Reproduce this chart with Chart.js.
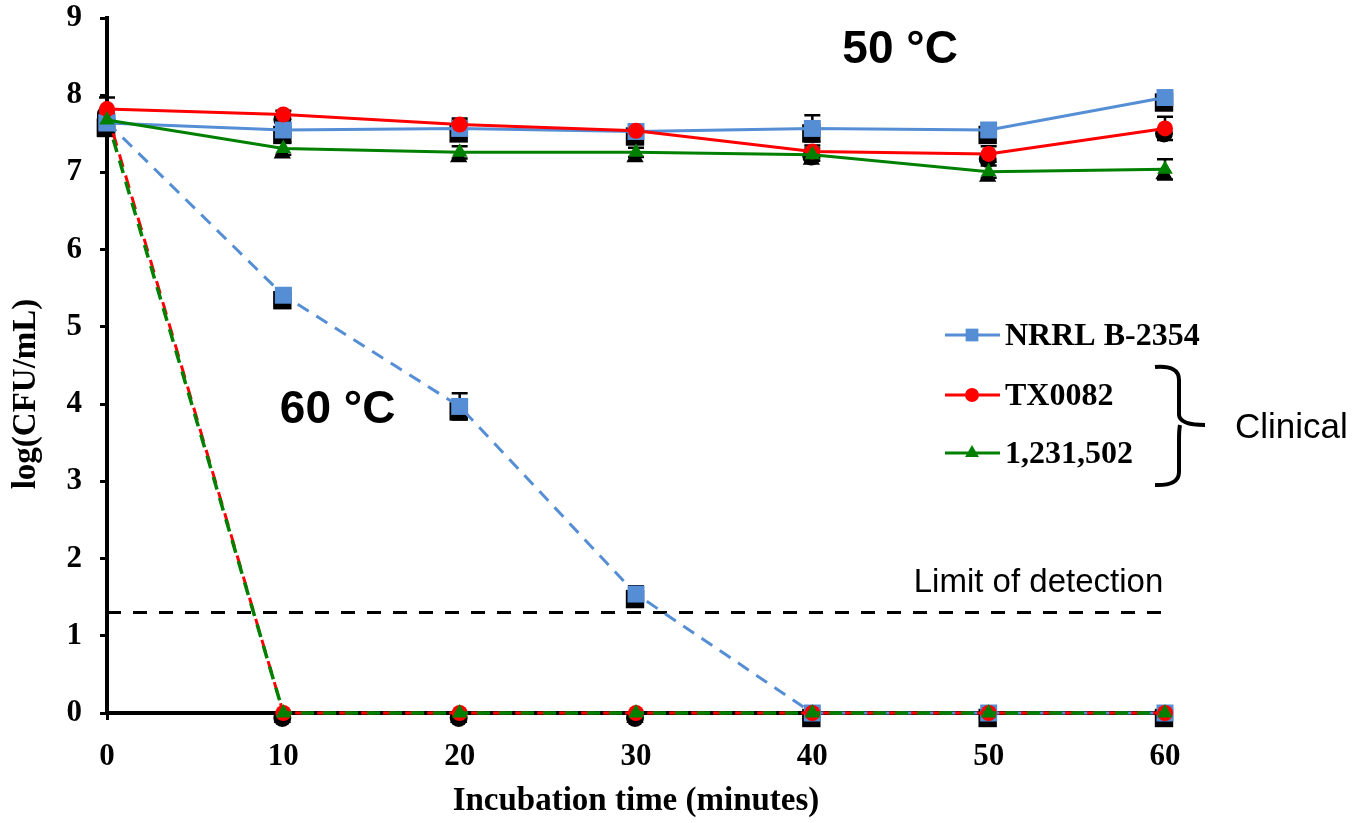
<!DOCTYPE html>
<html>
<head>
<meta charset="utf-8">
<script src="https://cdn.jsdelivr.net/npm/chart.js@4/dist/chart.umd.min.js"></script>
<style>
  html, body { margin: 0; padding: 0; background: #fff; }
  #wrap { width: 1356px; height: 823px; }
</style>
</head>
<body>
<div id="wrap"><canvas id="chart" width="1356" height="823"></canvas></div>
<script>
// time points (minutes)
const times = [0, 10, 20, 30, 40, 50, 60];

// 50 °C series, log(CFU/mL)
const nrrl50 = [7.64, 7.55, 7.57, 7.53, 7.57, 7.55, 7.97];
const tx50 = [7.82, 7.75, 7.62, 7.54, 7.27, 7.24, 7.57];
const clin50 = [7.68, 7.31, 7.26, 7.26, 7.23, 7.01, 7.04];

// 60 °C series
const nrrl60 = [7.65, 5.41, 3.97, 1.54, 0, 0, 0];
const tx60 = [7.78, 0, 0, 0, 0, 0, 0];
const clin60 = [7.7, 0, 0, 0, 0, 0, 0];

// standard deviations
const errNrrl50 = [0.1, 0.08, 0.1, 0.08, 0.17, 0.08, 0.08];
const errTx50 = [0.15, 0.05, 0.08, 0.05, 0.08, 0.1, 0.15];
const errClin50 = [0.05, 0.08, 0.08, 0.06, 0.08, 0.08, 0.13];
const errNrrl60 = [0.1, 0.08, 0.17, 0.1, 0, 0, 0];
const errTx60 = [0, 0, 0, 0, 0, 0, 0];
const errClin60 = [0, 0, 0, 0, 0, 0, 0];

const lodValue = 1.3;
const strainNames = ['NRRL B-2354', 'TX0082', '1,231,502'];

const BLUE = '#558ED5', RED = '#FF0000', GREEN = '#008000';
const SERIF = "'Liberation Serif', 'Times New Roman', serif";
const SANS = "'Liberation Sans', Arial, sans-serif";

const pts = arr => arr.map((v, i) => ({ x: times[i], y: v }));

function series(label, data, err, color, style, radius, dashed) {
  return {
    label, data: pts(data), err,
    borderColor: color, backgroundColor: color,
    borderWidth: 3,
    borderDash: dashed ? [13, 9] : [],
    pointStyle: style, pointRadius: radius, pointHoverRadius: radius,
    pointBorderWidth: 0, pointBackgroundColor: color,
    tension: 0, clip: false
  };
}

// first dataset is drawn on top
const datasets = [
  series(strainNames[2], clin50, errClin50, GREEN, 'triangle', 9, false),
  series(strainNames[1], tx50, errTx50, RED, 'circle', 8, false),
  series(strainNames[0], nrrl50, errNrrl50, BLUE, 'rect', 12, false),
  series(strainNames[2], clin60, errClin60, GREEN, 'triangle', 9, true),
  series(strainNames[1], tx60, errTx60, RED, 'circle', 8, true),
  series(strainNames[0], nrrl60, errNrrl60, BLUE, 'rect', 12, true),
  {
    label: 'LOD', data: [{ x: 0, y: lodValue }, { x: 60, y: lodValue }], err: [0, 0],
    borderColor: '#000', borderWidth: 3, borderDash: [14, 12],
    pointRadius: 0, noMarker: true
  }
];
datasets[3].borderWidth = 3.5;

function drawMarker(ctx, style, r, x, y) {
  if (Chart.helpers && Chart.helpers.drawPoint) {
    Chart.helpers.drawPoint(ctx, { pointStyle: style, radius: r, rotation: 0, borderWidth: 0 }, x, y);
  } else {
    ctx.fillRect(x - r * 0.7, y - r * 0.7, r * 1.4, r * 1.4);
  }
}

// error bars and the black marker shadows, under all series
const errorAndShadow = {
  id: 'errorAndShadow',
  beforeDatasetsDraw(chart) {
    const ctx = chart.ctx;
    const ys = chart.scales.y;
    ctx.save();
    ctx.strokeStyle = '#000';
    ctx.fillStyle = '#000';
    ctx.lineWidth = 2.5;
    chart.data.datasets.forEach((ds, di) => {
      if (ds.noMarker) return;
      const meta = chart.getDatasetMeta(di);
      meta.data.forEach((el, i) => {
        const e = ds.err[i];
        if (e > 0) {
          const v = ds.data[i].y;
          const top = ys.getPixelForValue(v + e), bot = ys.getPixelForValue(v - e);
          ctx.beginPath();
          ctx.moveTo(el.x, top); ctx.lineTo(el.x, bot);
          ctx.moveTo(el.x - 8, top); ctx.lineTo(el.x + 8, top);
          ctx.moveTo(el.x - 8, bot); ctx.lineTo(el.x + 8, bot);
          ctx.stroke();
        }
        drawMarker(ctx, ds.pointStyle, ds.pointRadius + 1, el.x - 1, el.y + 5);
      });
    });
    ctx.restore();
  }
};

const annotations = {
  id: 'annotations',
  afterDraw(chart) {
    const ctx = chart.ctx;
    const xs = chart.scales.x, ys = chart.scales.y;
    ctx.save();
    ctx.fillStyle = '#000';
    ctx.textBaseline = 'alphabetic';

    ctx.font = 'bold 46px ' + SANS;
    ctx.textAlign = 'left';
    ctx.fillText('50 °C', xs.getPixelForValue(41.7), ys.getPixelForValue(8.42));
    ctx.fillText('60 °C', xs.getPixelForValue(9.8), ys.getPixelForValue(3.75));

    ctx.font = '33px ' + SANS;
    ctx.textAlign = 'right';
    ctx.fillText('Limit of detection', xs.getPixelForValue(59.9), ys.getPixelForValue(1.57));

    // y axis title
    ctx.save();
    ctx.translate(26, 394);
    ctx.rotate(-Math.PI / 2);
    ctx.font = 'bold 33px ' + SERIF;
    ctx.textAlign = 'center';
    ctx.textBaseline = 'middle';
    ctx.fillText('log(CFU/mL)', 0, 0);
    ctx.restore();

    // legend
    const rows = [
      { ds: datasets[2], y: 335, r: 9 },
      { ds: datasets[1], y: 395, r: 7 },
      { ds: datasets[0], y: 453, r: 8 }
    ];
    ctx.font = 'bold 32px ' + SERIF;
    ctx.textAlign = 'left';
    ctx.textBaseline = 'middle';
    rows.forEach(row => {
      ctx.strokeStyle = row.ds.borderColor;
      ctx.fillStyle = row.ds.borderColor;
      ctx.lineWidth = 3;
      ctx.beginPath();
      ctx.moveTo(945, row.y); ctx.lineTo(1000, row.y);
      ctx.stroke();
      drawMarker(ctx, row.ds.pointStyle, row.r, 972, row.y);
      ctx.fillStyle = '#000';
      ctx.fillText(row.ds.label, 1005, row.y + 2);
    });

    // brace for the clinical strains
    ctx.strokeStyle = '#000';
    ctx.lineWidth = 4;
    ctx.lineJoin = 'round';
    ctx.beginPath();
    ctx.moveTo(1155, 367);
    ctx.quadraticCurveTo(1179, 365, 1179, 380);
    ctx.lineTo(1179, 415);
    ctx.quadraticCurveTo(1180, 425, 1205, 425);
    ctx.moveTo(1180, 425);
    ctx.quadraticCurveTo(1179, 430, 1179, 440);
    ctx.lineTo(1179, 472);
    ctx.quadraticCurveTo(1179, 486, 1155, 485);
    ctx.stroke();

    ctx.font = '35px ' + SANS;
    ctx.textBaseline = 'alphabetic';
    ctx.fillStyle = '#000';
    ctx.fillText('Clinical', 1235, 438);
    ctx.restore();
  }
};

new Chart(document.getElementById('chart'), {
  type: 'line',
  data: { datasets },
  options: {
    responsive: false,
    animation: false,
    events: [],
    layout: { padding: { left: 0, right: 191, top: 18, bottom: 0 } },
    plugins: { legend: { display: false }, tooltip: { enabled: false } },
    scales: {
      x: {
        type: 'linear', min: 0, max: 60,
        ticks: { stepSize: 10, color: '#000', padding: 18, font: { family: SERIF, size: 31, weight: 'bold' } },
        grid: { drawOnChartArea: false, drawTicks: true, tickLength: 7, color: '#000', lineWidth: 3 },
        border: { color: '#000', width: 4 },
        title: { display: true, text: 'Incubation time (minutes)', color: '#000', padding: { top: 0, bottom: 2 }, font: { family: SERIF, size: 33, weight: 'bold' } },
        afterFit(s) { s.height = 110; s.paddingLeft = 0; s.paddingRight = 0; }
      },
      y: {
        type: 'linear', min: 0, max: 9,
        ticks: { stepSize: 1, color: '#000', padding: 18, font: { family: SERIF, size: 31, weight: 'bold' } },
        grid: { drawOnChartArea: false, drawTicks: true, tickLength: 7, color: '#000', lineWidth: 3 },
        border: { color: '#000', width: 4 },
        title: { display: false },
        afterFit(s) { s.width = 107; s.paddingTop = 0; s.paddingBottom = 0; }
      }
    }
  },
  plugins: [errorAndShadow, annotations]
});
</script>
</body>
</html>
